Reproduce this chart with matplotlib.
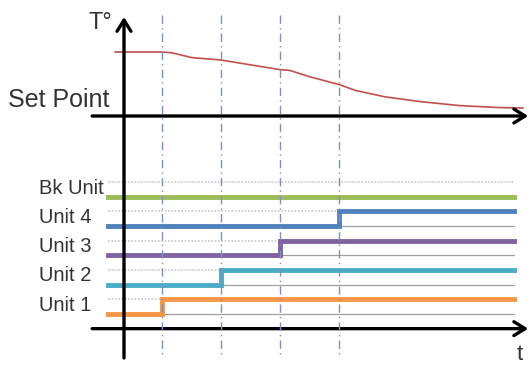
import matplotlib
matplotlib.use("Agg")
import matplotlib.pyplot as plt
import numpy as np

plt.rcParams['font.family'] = ['Liberation Sans', 'DejaVu Sans']

# ---- data ----
unit_names = ["Unit 1", "Unit 2", "Unit 3", "Unit 4", "Bk Unit"]
unit_colors = ["#F79646", "#4BACC6", "#8064A2", "#4F81BD", "#9BBB59"]
switch_times = [0.65, 1.65, 2.65, 3.65, None]   # Bk Unit never switches on
temp_time = [-0.15, 0.64, 0.81, 1.15, 1.64, 2.14, 2.64, 2.81, 3.15, 3.66, 3.92, 4.42, 5.02, 5.69, 6.37, 6.76]
temp_vals = [28.0, 28.0, 27.9, 27.3, 27.0, 26.4, 25.8, 25.7, 24.9, 23.9, 23.2, 22.4, 21.8, 21.3, 21.05, 21.0]
set_point = 20.0
t_start, t_end = -0.27, 6.61

W, H = 531, 365
fig = plt.figure(figsize=(W / 100, H / 100), dpi=100)
xlim = (-124 / 59, (W - 124) / 59)

# temperature axes (full figure)
axT = fig.add_axes([0, 0, 1, 1])
axT.set_xlim(*xlim)
axT.set_ylim(20 - (H - 116) / 8, 20 + 116 / 8)
axT.axis('off')

# units axes (full figure)
axU = fig.add_axes([0, 0, 1, 1])
axU.set_xlim(*xlim)
axU.set_ylim(-(H - 314) / 29.3, 314 / 29.3)
axU.axis('off')
axU.patch.set_alpha(0)

# overlay for frame elements (pixel-y)
axO = fig.add_axes([0, 0, 1, 1])
axO.set_xlim(*xlim)
axO.set_ylim(H, 0)
axO.axis('off')
axO.patch.set_alpha(0)

# vertical dash-dot event lines
for ts in switch_times:
    if ts is None:
        continue
    axO.plot([ts, ts], [15, 357], color="#7f8fc0", lw=1.0, ls=(0, (6, 3, 1, 3)), zorder=1)

# unit reference lines and step lines
for i, (name, c, ts) in enumerate(zip(unit_names, unit_colors, switch_times)):
    low, high = i, i + 0.5
    axU.plot([t_start, t_end], [high, high], color="#c8c8c8", lw=1.2, ls=(0, (1, 1)), zorder=1)
    axU.plot([t_start, t_end], [low, low], color="#a0a0a0", lw=0.9, zorder=1)
    if ts is None:
        xs, ys = [t_start, t_end], [low, low]
    else:
        xs, ys = [t_start, ts, ts, t_end], [low, low, high, high]
    axU.plot(xs, ys, color=c, lw=3.5, solid_joinstyle='miter', zorder=3)
    axU.text(-1.44, i + 0.3, name, fontsize=14.5, color="#333333", ha='left', va='center')

# temperature curve
axT.plot(temp_time, temp_vals, color="#C0504D", lw=1.2, zorder=4)

# axes lines with arrows
arrow_kw = dict(arrowstyle="->,head_length=0.8,head_width=0.5", color="black", lw=2.4,
                shrinkA=0, shrinkB=0)
axT.annotate("", xy=(6.85, set_point), xytext=(-0.54, set_point), arrowprops=arrow_kw, zorder=5)
axU.annotate("", xy=(6.85, -0.5), xytext=(-0.54, -0.5), arrowprops=arrow_kw, zorder=5)
axO.annotate("", xy=(0, 17), xytext=(0, 358), arrowprops=arrow_kw, zorder=5)

axT.text(-1.97, 22.0, "Set Point", fontsize=18, color="#333333", ha='left', va='center')
axO.text(-0.61, 23, "T°", fontsize=17, color="#333333", ha='left', va='center')
axO.text(6.7, 354, "t", fontsize=16, color="#333333", ha='center', va='center')

fig.savefig("out.png", dpi=100)
